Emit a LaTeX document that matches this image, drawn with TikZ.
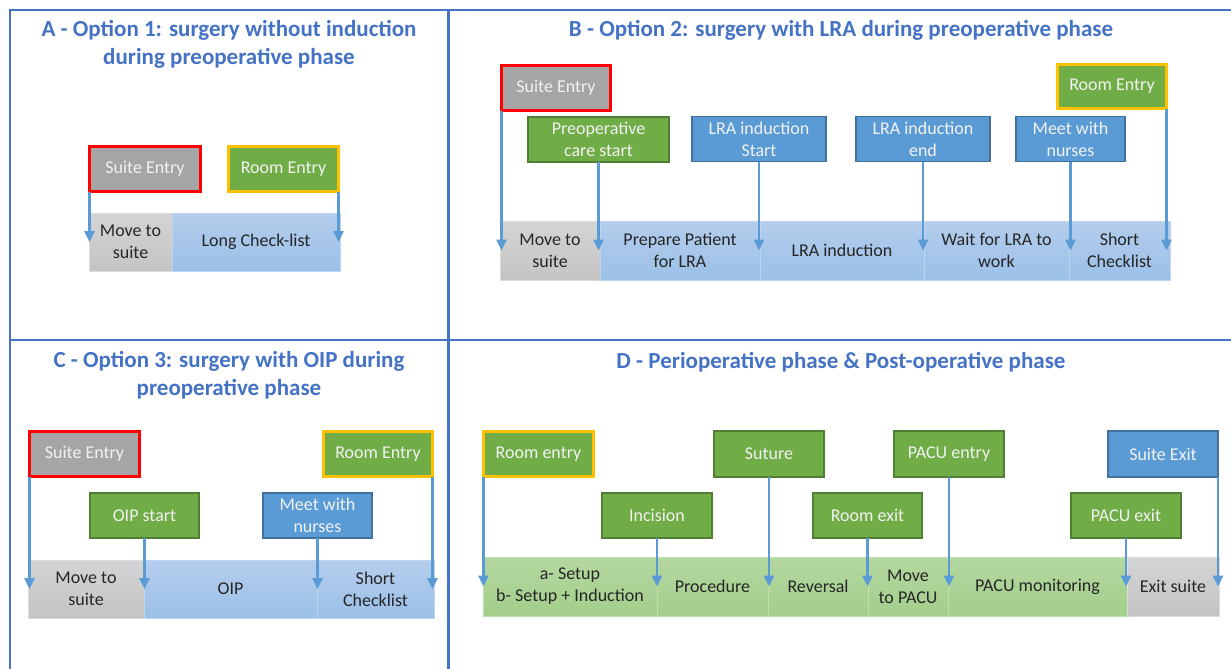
\documentclass[tikz,border=0pt]{standalone}
\usepackage{fontspec}
\setmainfont{Carlito}
\usetikzlibrary{arrows.meta}
\definecolor{frame}{HTML}{4472C4}
\definecolor{gfill}{HTML}{A5A5A5}
\definecolor{grn}{HTML}{70AD47}
\definecolor{grnb}{HTML}{507E32}
\definecolor{blu}{HTML}{5B9BD5}
\definecolor{blub}{HTML}{41719C}
\definecolor{orng}{HTML}{FFC000}
\definecolor{flowc}{HTML}{5B9BD5}
\definecolor{evtext}{HTML}{F2F2F2}
\definecolor{segtext}{HTML}{262626}
\definecolor{bbtop}{RGB}{180,205,236}
\definecolor{bbbot}{RGB}{155,192,232}
\definecolor{bbln}{RGB}{190,212,240}
\definecolor{gbtop}{RGB}{212,212,212}
\definecolor{gbbot}{RGB}{196,196,196}
\definecolor{gbln}{RGB}{220,220,220}
\definecolor{nbtop}{RGB}{180,216,160}
\definecolor{nbbot}{RGB}{164,206,140}
\definecolor{nbln}{RGB}{190,222,172}
\tikzset{
  x=1pt, y=-1pt,
  ttl/.style={font=\bfseries\fontsize{23}{28}\selectfont, text=frame, align=center, inner sep=0pt},
  ev/.style={rectangle, inner sep=0pt, outer sep=0pt, text=evtext, align=center,
             font=\fontsize{18}{22}\selectfont},
  suite/.style={ev, fill=gfill, draw=red, line width=3pt},
  room/.style={ev, fill=grn, draw=orng, line width=3pt},
  gev/.style={ev, fill=grn, draw=grnb, line width=1.5pt},
  bev/.style={ev, fill=blu, draw=blub, line width=1.5pt},
  seg/.style={rectangle, inner sep=0pt, outer sep=0pt, align=center, text=segtext,
              font=\fontsize{18}{22}\selectfont, line width=0.8pt},
  sblue/.style={seg, top color=bbtop, bottom color=bbbot, draw=bbln},
  sgray/.style={seg, top color=gbtop, bottom color=gbbot, draw=gbln},
  sgreen/.style={seg, top color=nbtop, bottom color=nbbot, draw=nbln},
  flow/.style={draw=flowc, line width=2.6pt, -{Triangle[length=11pt,width=10pt]}},
  frm/.style={draw=frame, line width=2.5pt}
}
\begin{document}
\begin{tikzpicture}
\useasboundingbox (0,0) rectangle (1231,669);
% frames
\draw[frm] (10,669) -- (10,10) -- (1231,10);
\draw[frm] (448.5,10) -- (448.5,669);
\draw[frm] (10,340) -- (1231,340);

% ---------- Panel A ----------
\node[ttl] (tA) at (229,44) {A - Option 1: surgery without induction\\during preoperative phase};
\node[sgray, minimum width=83pt, minimum height=58pt] (mvA) at (130.5,242) {Move to\\suite};
\node[sblue, minimum width=168pt, minimum height=58pt] (lcA) at (256,242) {Long Check-list};
\node[suite, minimum width=111pt, minimum height=45pt] (sA) at (145,169) {Suite Entry};
\node[room, minimum width=110pt, minimum height=45pt] (rA) at (283.5,169) {Room Entry};
\draw[flow] (sA.south west) -- (sA.south west |- mvA.center);
\draw[flow] (rA.south east) -- (rA.south east |- lcA.center);

% ---------- Panel B ----------
\node[ttl] (tB) at (841,30) {B - Option 2: surgery with LRA during preoperative phase};
\node[sgray, minimum width=100pt, minimum height=59pt] (mvB) at (550,250.5) {Move to\\suite};
\node[sblue, minimum width=160pt, minimum height=59pt] (ppB) at (680,250.5) {Prepare Patient\\for LRA};
\node[sblue, minimum width=164pt, minimum height=59pt] (liB) at (842,250.5) {LRA induction};
\node[sblue, minimum width=145pt, minimum height=59pt] (wtB) at (996.5,250.5) {Wait for LRA to\\work};
\node[sblue, minimum width=101pt, minimum height=59pt] (scB) at (1119.5,250.5) {Short\\Checklist};
\node[suite, minimum width=109pt, minimum height=45pt] (sB) at (556,88) {Suite Entry};
\node[room, minimum width=109pt, minimum height=44pt] (rB) at (1112,86.5) {Room Entry};
\node[gev, minimum width=141pt, minimum height=45pt] (pcB) at (598.5,139.5) {Preoperative\\care start};
\node[bev, minimum width=134pt, minimum height=45pt] (lsB) at (759,139) {LRA induction\\Start};
\node[bev, minimum width=134pt, minimum height=45pt] (leB) at (923,139) {LRA induction\\end};
\node[bev, minimum width=109pt, minimum height=45pt] (mnB) at (1070.5,139) {Meet with\\nurses};
\draw[flow] (sB.south west) -- (sB.south west |- mvB.center);
\draw[flow] (pcB.south) -- (pcB.south |- ppB.center);
\draw[flow] (lsB.south) -- (lsB.south |- liB.center);
\draw[flow] (leB.south) -- (leB.south |- wtB.center);
\draw[flow] (mnB.south) -- (mnB.south |- scB.center);
\draw[flow] (rB.south east) -- (rB.south east |- scB.center);

% ---------- Panel C ----------
\node[ttl] (tC) at (229,375.5) {C - Option 3: surgery with OIP during\\preoperative phase};
\node[sgray, minimum width=116pt, minimum height=58pt] (mvC) at (86,589) {Move to\\suite};
\node[sblue, minimum width=173pt, minimum height=58pt] (oipC) at (230.5,589) {OIP};
\node[sblue, minimum width=117pt, minimum height=58pt] (scC) at (375.5,589) {Short\\Checklist};
\node[suite, minimum width=110pt, minimum height=45pt] (sC) at (84.5,454) {Suite Entry};
\node[room, minimum width=109pt, minimum height=45pt] (rC) at (378,454) {Room Entry};
\node[gev, minimum width=109pt, minimum height=45pt] (oiC) at (144.5,515.5) {OIP start};
\node[bev, minimum width=109pt, minimum height=45pt] (mnC) at (317.5,515.5) {Meet with\\nurses};
\draw[flow] (sC.south west) -- (sC.south west |- mvC.center);
\draw[flow] (oiC.south) -- (oiC.south |- oipC.center);
\draw[flow] (mnC.south) -- (mnC.south |- scC.center);
\draw[flow] (rC.south east) -- (rC.south east |- scC.center);

% ---------- Panel D ----------
\node[ttl] (tD) at (841,362) {D - Perioperative phase \& Post-operative phase};
\node[sgreen, minimum width=174pt, minimum height=59pt] (s1D) at (570,586.5) {a- Setup\\b- Setup + Induction};
\node[sgreen, minimum width=111pt, minimum height=59pt] (s2D) at (712.5,586.5) {Procedure};
\node[sgreen, minimum width=100pt, minimum height=59pt] (s3D) at (818,586.5) {Reversal};
\node[sgreen, minimum width=80pt, minimum height=59pt] (s4D) at (908,586.5) {Move\\to PACU};
\node[sgreen, minimum width=179pt, minimum height=59pt] (s5D) at (1037.5,586.5) {PACU monitoring};
\node[sgray, minimum width=92pt, minimum height=59pt] (s6D) at (1173,586.5) {Exit suite};
\node[room, minimum width=110pt, minimum height=45pt] (reD) at (538.5,454) {Room entry};
\node[gev, minimum width=110pt, minimum height=46pt] (suD) at (769,454) {Suture};
\node[gev, minimum width=110pt, minimum height=46pt] (peD) at (949,454) {PACU entry};
\node[bev, minimum width=110pt, minimum height=46pt] (seD) at (1163,454) {Suite Exit};
\node[gev, minimum width=110pt, minimum height=45pt] (inD) at (657,515.5) {Incision};
\node[gev, minimum width=109pt, minimum height=45pt] (rxD) at (867.5,515.5) {Room exit};
\node[gev, minimum width=110pt, minimum height=45pt] (pxD) at (1126,515.5) {PACU exit};
\draw[flow] (reD.south west) -- (reD.south west |- s1D.center);
\draw[flow] (inD.south) -- (inD.south |- s2D.center);
\draw[flow] (suD.south) -- (suD.south |- s3D.center);
\draw[flow] (rxD.south) -- (rxD.south |- s4D.center);
\draw[flow] (peD.south) -- (peD.south |- s5D.center);
\draw[flow] (pxD.south) -- (pxD.south |- s6D.center);
\draw[flow] (seD.south east) -- (seD.south east |- s6D.center);
\end{tikzpicture}
\end{document}
